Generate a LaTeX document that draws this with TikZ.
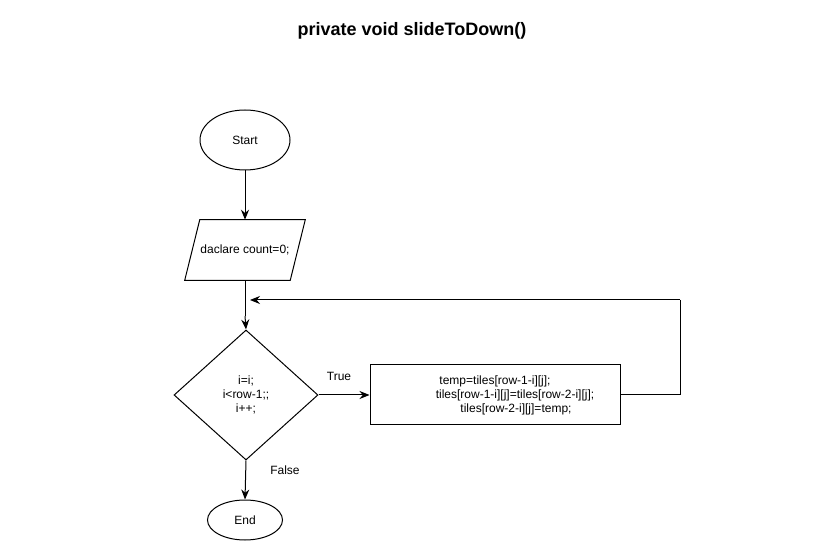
\documentclass[tikz,border=0pt]{standalone}
\usepackage{fontspec}
\setmainfont{Liberation Sans}
\usetikzlibrary{shapes.geometric,arrows.meta}
\begin{document}
\begin{tikzpicture}[x=0.75pt,y=-0.75pt,
  every node/.style={font=\fontsize{9pt}{10.5pt}\selectfont, inner sep=0pt},
  shp/.style={draw, line width=0.75pt},
  term/.style={shp, ellipse},
  conn/.style={draw, line width=0.75pt, -{Stealth[length=7.5pt,width=6pt]}}]
\useasboundingbox (0,0) rectangle (821,541);
\node[font=\bfseries\fontsize{13.5pt}{15pt}\selectfont] (title) at (412,31) {private void slideToDown()};
\node[term, minimum width=67.5pt, minimum height=45pt] (start) at (245,140) {Start};
\node[minimum width=78.75pt, minimum height=45pt] (decl) at (245,250) {daclare count=0;};
\draw[shp, line join=miter] ([xshift=-5.625pt]decl.south west) -- ([xshift=5.625pt]decl.north west)
   -- ([xshift=5.625pt]decl.north east) -- ([xshift=-5.625pt]decl.south east) -- cycle;
\coordinate (dj) at (245,316);
\node[shp, diamond, aspect=1.1077, minimum width=108pt, minimum height=97.5pt] (cond) at (246,395) {};
\node[align=center] (condt) at (246,395) {i=i;\\ i<row-1;;\\ i++;};
\node[shp, rectangle, minimum width=187.5pt, minimum height=45pt] (body) at (495,395) {};
\node[align=center] (bodyt) at (515,395) {temp=tiles[row-1-i][j];\hspace*{30pt}\\ tiles[row-1-i][j]=tiles[row-2-i][j];\\ \hspace*{1.5pt}tiles[row-2-i][j]=temp;};
\node[term, minimum width=56.25pt, minimum height=30pt] (end) at (245,520) {End};
\coordinate (r1) at (680,395);
\coordinate (r2) at (680,300);
\coordinate (r3) at (250,300);
\node (true) at (339,376) {True};
\node (false) at (285,470) {False};
\draw[conn] (start) -- (decl);
\draw[line width=0.75pt] (decl.south) -- (dj);
\draw[conn] (dj) -- (cond.north);
\draw[conn] (cond.east) -- (body.west);
\draw[line width=0.75pt] (body.east) -- (r1) -- (r2);
\draw[conn] (r2) -- (r3);
\draw[conn] (cond.south) -- (end.north);
\end{tikzpicture}
\end{document}
